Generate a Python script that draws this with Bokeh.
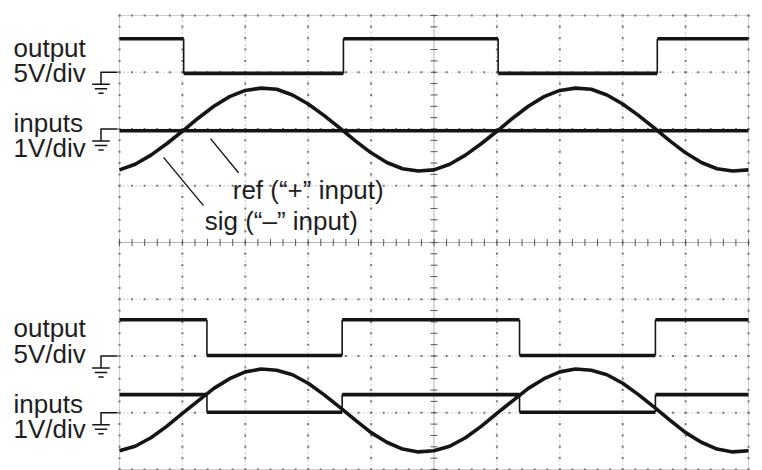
import numpy as np
from bokeh.plotting import figure
from bokeh.models import Range1d
from bokeh.core.properties import value
from bokeh.embed import file_html
from bokeh.resources import INLINE

# ---------------- data (in screen divisions) ----------------
sample_x = [0.0, 0.25, 0.5, 0.75, 1.0, 1.25, 1.5, 1.75, 2.0, 2.25, 2.5, 2.75, 3.0, 3.25,
            3.5, 3.75, 4.0, 4.25, 4.5, 4.75, 5.0, 5.25, 5.5, 5.75, 6.0, 6.25, 6.5, 6.75,
            7.0, 7.25, 7.5, 7.75, 8.0, 8.25, 8.5, 8.75, 9.0, 9.25, 9.5, 9.75, 10.0]

top_sig = [5.28, 5.38, 5.54, 5.74, 5.96, 6.19, 6.40, 6.57, 6.68, 6.72, 6.70, 6.60, 6.44, 6.24,
           6.02, 5.79, 5.58, 5.41, 5.30, 5.26, 5.28, 5.38, 5.54, 5.74, 5.96, 6.19, 6.40, 6.57,
           6.68, 6.72, 6.70, 6.60, 6.44, 6.24, 6.02, 5.79, 5.58, 5.41, 5.30, 5.26, 5.28]
top_ref_level = 5.97
top_out_edges = [0.0, 1.02, 3.56, 6.02, 8.55, 10.0]
top_out_levels = [7.59, 6.98, 7.59, 6.98, 7.59]

bot_sig = [0.33, 0.41, 0.56, 0.76, 0.99, 1.21, 1.43, 1.60, 1.72, 1.77, 1.75, 1.67, 1.52, 1.32,
           1.10, 0.87, 0.65, 0.48, 0.36, 0.31, 0.33, 0.41, 0.56, 0.76, 0.99, 1.21, 1.43, 1.60,
           1.72, 1.77, 1.75, 1.67, 1.52, 1.32, 1.10, 0.87, 0.65, 0.48, 0.36, 0.31, 0.33]
bot_edges = [0.0, 1.39, 3.54, 6.36, 8.52, 10.0]
bot_out_levels = [2.64, 2.01, 2.64, 2.01, 2.64]
bot_ref_levels = [1.32, 1.01, 1.32, 1.01, 1.32]

ground_levels = [7.0, 6.0, 2.0, 1.0]
side_labels = ["output", "5V/div", "inputs", "1V/div", "output", "5V/div", "inputs", "1V/div"]
side_label_y = [7.42, 6.98, 6.10, 5.66, 2.49, 2.04, 1.16, 0.72]

# ---------------- figure geometry ----------------
W, H = 762, 470
SX = 62.9              # px per horizontal division
SY = 56.75             # px per vertical division
LEFT = 119             # frame left in canvas px
TOP = 15               # y=8 in canvas px
x0 = -LEFT / SX
x1 = (W - LEFT) / SX
y1 = 8 + TOP / SY
y0 = 8 - (H - TOP) / SY

p = figure(width=W, height=H, x_range=Range1d(x0, x1), y_range=Range1d(y0, y1),
           output_backend="svg", toolbar_location=None, min_border=0,
           x_axis_location=None, y_axis_location=None)
p.grid.visible = False
p.outline_line_color = None
p.background_fill_color = "white"
p.border_fill_color = "white"

INK = "#151515"
GRID = "#a0a0a0"

# ---------------- graticule ----------------
for gx in range(0, 11):
    if gx == 5:
        continue
    dash = "1 1" if gx in (0, 10) else "1 3"
    p.line([gx, gx], [0, 8], line_color=GRID, line_width=1, line_dash=dash)
for gy in range(0, 9):
    if gy == 4:
        continue
    dash = "1 1" if gy in (0, 8) else "1 3"
    p.line([0, 10], [gy, gy], line_color=GRID, line_width=1, line_dash=dash)

fine = np.round(np.arange(0, 10.001, 0.2), 3)
fine_y = np.round(np.arange(0, 8.001, 0.2), 3)
for gy in range(0, 9):
    if gy == 4:
        continue
    p.scatter(fine, [gy] * len(fine), marker="square", size=2, fill_color="#777", line_color=None)
for gx in range(0, 11):
    if gx == 5:
        continue
    p.scatter([gx] * len(fine_y), fine_y, marker="square", size=2, fill_color="#777", line_color=None)

# center cross with tick marks
p.line([5, 5], [0, 8], line_color="#666", line_width=1, line_dash="1 1")
p.line([0, 10], [4, 4], line_color="#666", line_width=1, line_dash="1 1")
p.scatter([5] * len(fine_y), fine_y, marker="dash", size=7, line_color="#555", line_width=1)
p.scatter(fine, [4] * len(fine), marker="dash", size=7, angle=np.pi / 2, line_color="#555", line_width=1)

# ---------------- traces ----------------
TW = 3.6
p.line(sample_x, top_sig, line_color=INK, line_width=TW)
p.line([0, 10], [top_ref_level, top_ref_level], line_color=INK, line_width=TW)
p.segment(top_out_edges[:-1], top_out_levels, top_out_edges[1:], top_out_levels,
          line_color=INK, line_width=TW)
p.segment(top_out_edges[1:-1], top_out_levels[:-1], top_out_edges[1:-1], top_out_levels[1:],
          line_color=INK, line_width=1.6)

p.line(sample_x, bot_sig, line_color=INK, line_width=TW)
p.segment(bot_edges[:-1], bot_out_levels, bot_edges[1:], bot_out_levels,
          line_color=INK, line_width=TW)
p.segment(bot_edges[1:-1], bot_out_levels[:-1], bot_edges[1:-1], bot_out_levels[1:],
          line_color=INK, line_width=1.6)
p.segment(bot_edges[:-1], bot_ref_levels, bot_edges[1:], bot_ref_levels,
          line_color=INK, line_width=TW)
p.segment(bot_edges[1:-1], bot_ref_levels[:-1], bot_edges[1:-1], bot_ref_levels[1:],
          line_color=INK, line_width=1.6)

# ---------------- ground symbols ----------------
def px_x(px):
    return px / SX

def px_y(px):
    return px / SY

for g in ground_levels:
    vx = px_x(-18.5)
    p.segment([px_x(-19)], [g], [px_x(-2)], [g], line_color=INK, line_width=1.5)
    p.segment([vx], [g], [vx], [g - px_y(12)], line_color=INK, line_width=1.5)
    for off, half in ((12, 8.8), (16.5, 6.2), (21, 2.6)):
        p.segment([vx - px_x(half)], [g - px_y(off)], [vx + px_x(half)], [g - px_y(off)],
                  line_color=INK, line_width=1.5)

# ---------------- labels ----------------
FONT = value("Liberation Sans")
FS = "26px"
p.text([-1.685] * len(side_labels), side_label_y, text=side_labels, text_font=FONT,
       text_font_size=FS, text_color="#1e1e1e", text_baseline="alphabetic", text_align="left")

p.text([1.80], [4.92], text=["ref (\u201c+\u201d input)"], text_font=FONT,
       text_font_size=FS, text_color="#1e1e1e", text_baseline="alphabetic")
p.text([1.355], [4.38], text=["sig (\u201c\u2013\u201d input)"], text_font=FONT,
       text_font_size=FS, text_color="#1e1e1e", text_baseline="alphabetic")

p.segment([1.447], [5.83], [1.892], [5.23], line_color=INK, line_width=1.4)
p.segment([0.70], [5.50], [1.335], [4.65], line_color=INK, line_width=1.4)

open("out.html", "w").write(file_html(p, INLINE))
